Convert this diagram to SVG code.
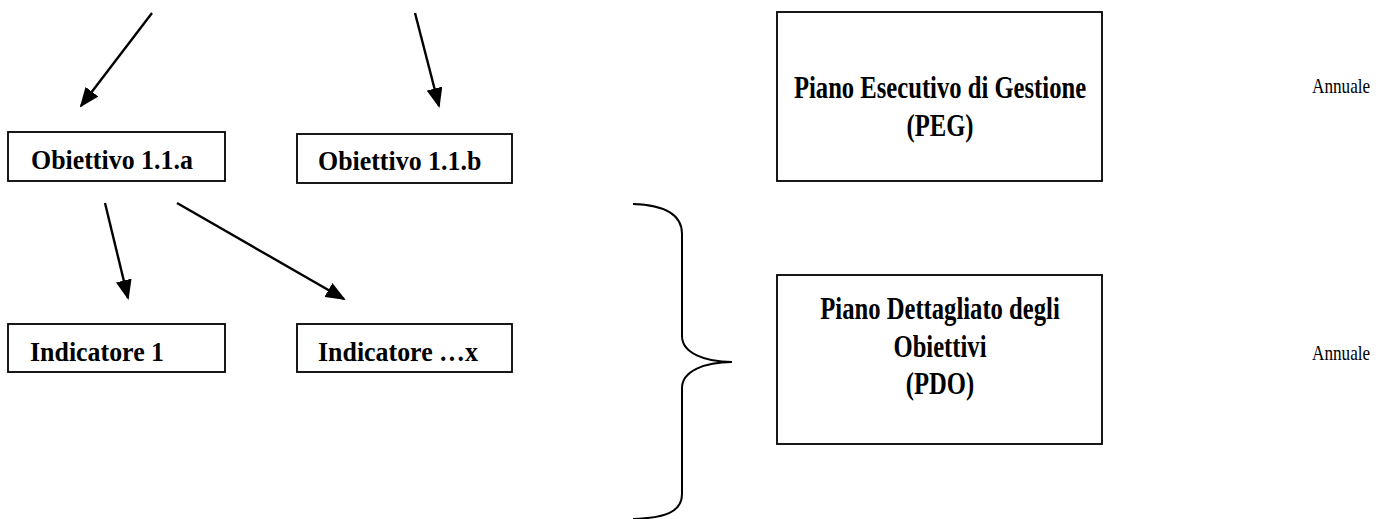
<svg xmlns="http://www.w3.org/2000/svg" width="1395" height="519" viewBox="0 0 1395 519">
<style>
.box{fill:#fff;stroke:#000;stroke-width:1.8}
.lbl{font-family:"Liberation Serif","Times New Roman",serif;font-weight:bold;fill:#000}
.s{font-size:28px}
.b{font-size:32px;text-anchor:middle}
.ann{font-family:"Liberation Serif","Times New Roman",serif;font-size:20px;fill:#000}
.con{stroke:#000;stroke-width:2.4;fill:none}
</style>
<defs>
<marker id="ah" markerUnits="userSpaceOnUse" markerWidth="20" markerHeight="16" viewBox="0 0 20 16" refX="18" refY="8" orient="auto">
<path d="M0,0 L20,8 L0,16 z" fill="#000"/>
</marker>
</defs>
<rect width="1395" height="519" fill="#fff"/>
<g id="connectors">
<line class="con" x1="152" y1="13" x2="81" y2="106" marker-end="url(#ah)"/>
<line class="con" x1="415" y1="13" x2="439" y2="106" marker-end="url(#ah)"/>
<line class="con" x1="105" y1="203" x2="128" y2="298" marker-end="url(#ah)"/>
<line class="con" x1="177" y1="203" x2="344" y2="299" marker-end="url(#ah)"/>
<path class="con" style="stroke-width:2" d="M633,204 C665,205 682,214 682,234 L682,336 C682,353 705,362 732,362 C705,362 682,371 682,388 L682,494 C682,512 665,518 633,519"/>
</g>
<g id="obiettivo-a">
<rect class="box" x="8" y="132" width="217" height="49"/>
<text class="lbl s" transform="translate(31,169) scale(0.925,1)">Obiettivo 1.1.a</text>
</g>
<g id="obiettivo-b">
<rect class="box" x="297" y="134" width="215" height="49"/>
<text class="lbl s" transform="translate(318,170) scale(0.925,1)">Obiettivo 1.1.b</text>
</g>
<g id="indicatore-1">
<rect class="box" x="8" y="324" width="217" height="48"/>
<text class="lbl s" transform="translate(30,361) scale(0.925,1)">Indicatore 1</text>
</g>
<g id="indicatore-x">
<rect class="box" x="297" y="324" width="215" height="48"/>
<text class="lbl s" transform="translate(318,361) scale(0.925,1)">Indicatore …x</text>
</g>
<g id="peg">
<rect class="box" x="777" y="12" width="325" height="169"/>
<text class="lbl b" transform="translate(940,98) scale(0.77,1)">Piano Esecutivo di Gestione</text>
<text class="lbl b" transform="translate(940,136) scale(0.77,1)">(PEG)</text>
</g>
<g id="pdo">
<rect class="box" x="777" y="275" width="325" height="169"/>
<text class="lbl b" transform="translate(940,319) scale(0.77,1)">Piano Dettagliato degli</text>
<text class="lbl b" transform="translate(940,357) scale(0.77,1)">Obiettivi</text>
<text class="lbl b" transform="translate(940,394) scale(0.77,1)">(PDO)</text>
</g>
<g id="annuale-1">
<text class="ann" transform="translate(1312,93) scale(0.86,1)">Annuale</text>
</g>
<g id="annuale-2">
<text class="ann" transform="translate(1312,360) scale(0.86,1)">Annuale</text>
</g>
</svg>
